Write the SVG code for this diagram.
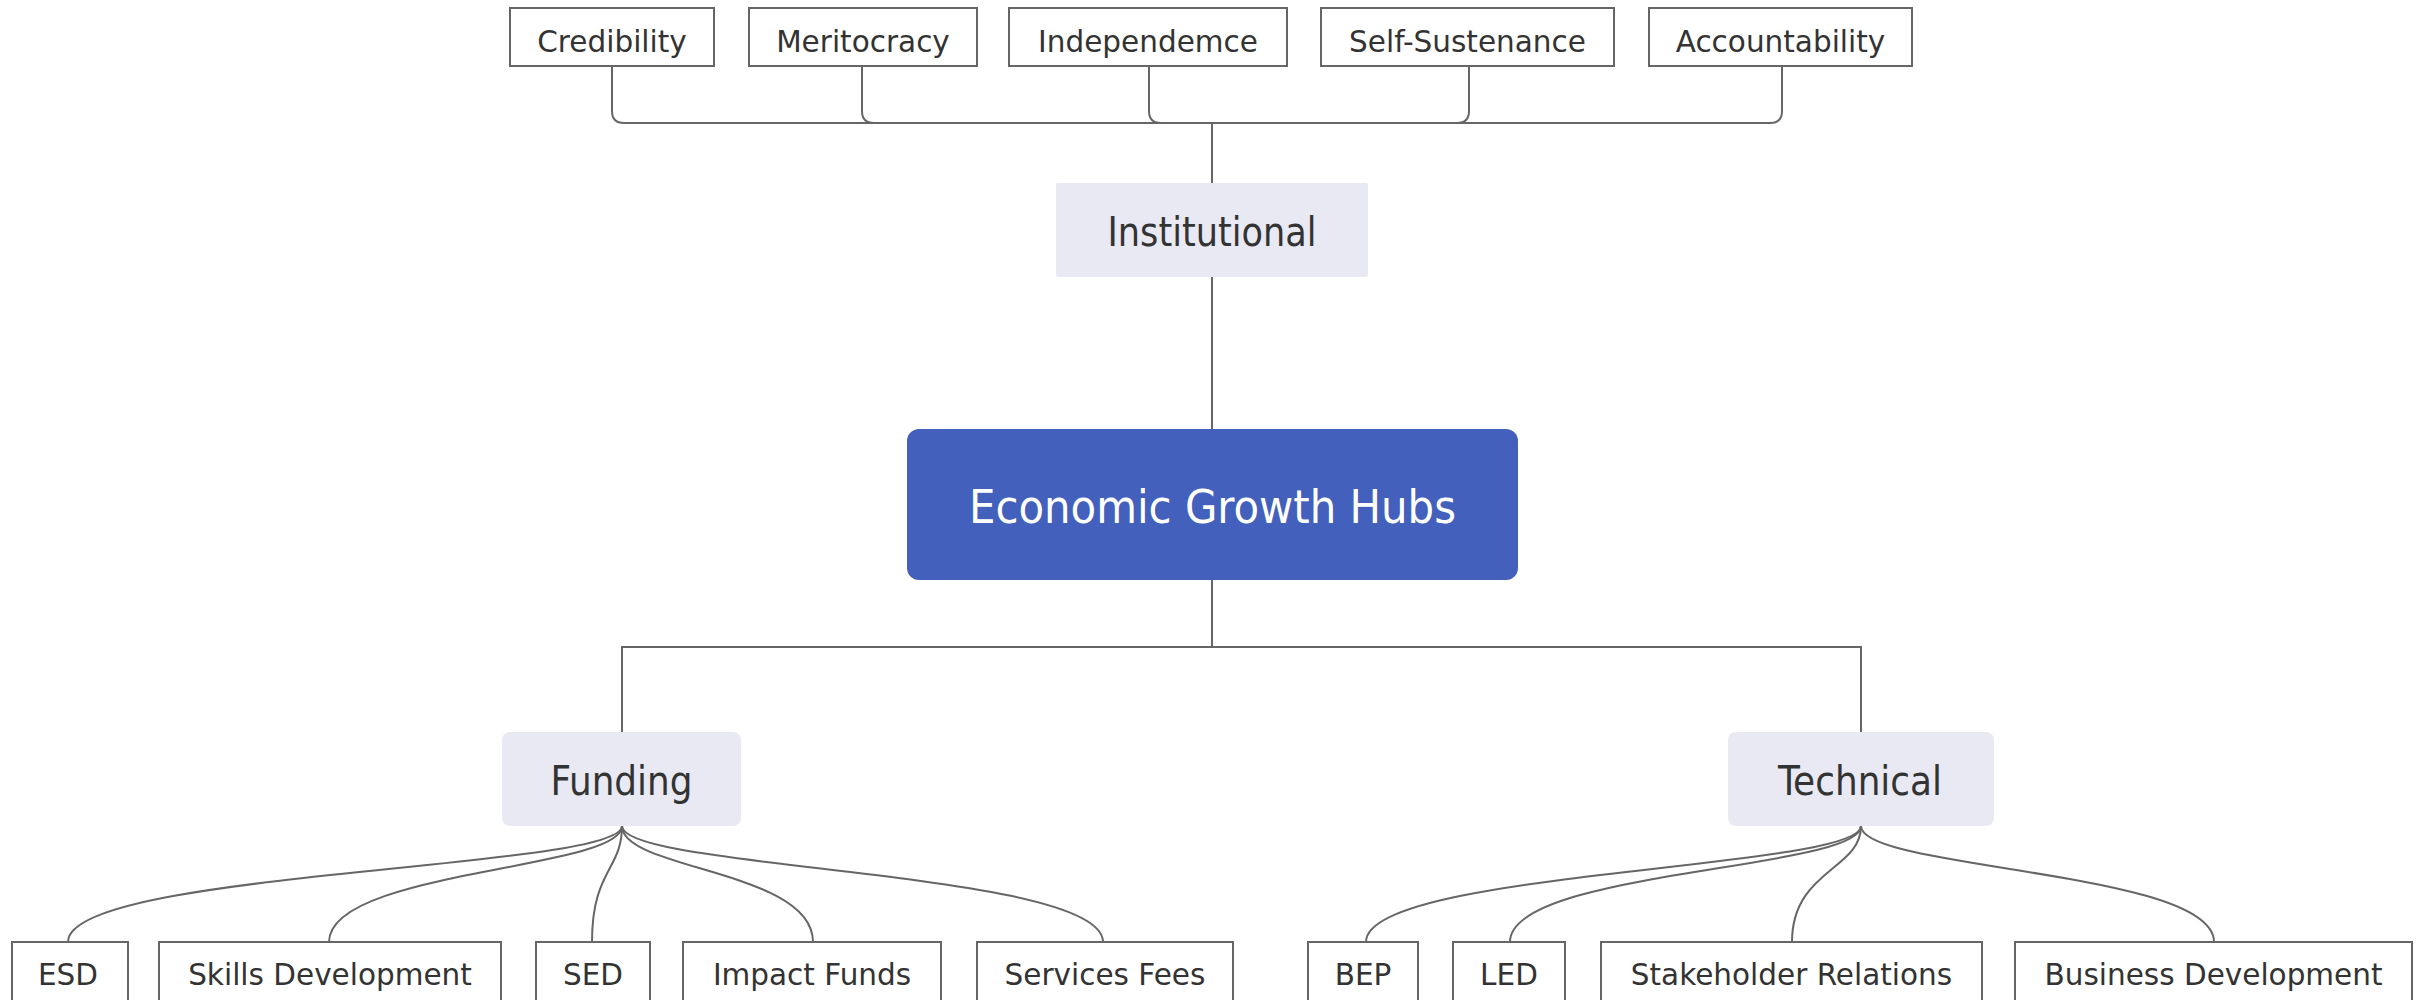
<svg xmlns="http://www.w3.org/2000/svg" width="2422" height="1000" viewBox="0 0 2422 1000">
<style>
.leaf rect{fill:#ffffff;stroke:#666666;stroke-width:2}
.leaf text{font-family:"DejaVu Sans",Verdana,sans-serif;font-size:29.5px;fill:#333333;text-anchor:middle}
.main rect{fill:#e8e9f2;stroke:none}
.main text{font-family:"DejaVu Sans Condensed","DejaVu Sans",sans-serif;font-stretch:condensed;font-size:40px;fill:#333333;text-anchor:middle}
.root rect{fill:#4360bd;stroke:none}
.root text{font-family:"DejaVu Sans Condensed","DejaVu Sans",sans-serif;font-stretch:condensed;font-size:47px;fill:#ffffff;text-anchor:middle}
#connectors path{fill:none;stroke:#666666;stroke-width:2}
</style>
<rect x="0" y="0" width="2422" height="1000" fill="#ffffff"/>
<g id="connectors">
<path d="M1212 123 H624 Q612 123 612 111 V66"/>
<path d="M1212 123 H874 Q862 123 862 111 V66"/>
<path d="M1212 123 H1161 Q1149 123 1149 111 V66"/>
<path d="M1212 123 H1457 Q1469 123 1469 111 V66"/>
<path d="M1212 123 H1770 Q1782 123 1782 111 V66"/>
<path d="M1212 123 V183"/>
<path d="M1212 277 V429"/>
<path d="M1212 580 V647 H622 V732"/>
<path d="M1212 647 H1861 V732"/>
<path d="M622 826 C622 870 68 870 68 942"/>
<path d="M622 826 C622 870 329 870 329 942"/>
<path d="M622 826 C622 870 592 870 592 942"/>
<path d="M622 826 C622 870 813 870 813 942"/>
<path d="M622 826 C622 870 1103 870 1103 942"/>
<path d="M1861 826 C1861 870 1366 870 1366 942"/>
<path d="M1861 826 C1861 870 1510 870 1510 942"/>
<path d="M1861 826 C1861 870 1792 870 1792 942"/>
<path d="M1861 826 C1861 870 2214 870 2214 942"/>
</g>
<g id="root" class="root"><rect x="907" y="429" width="611" height="151" rx="12"/><text x="1212.5" y="523" textLength="487" lengthAdjust="spacingAndGlyphs">Economic Growth Hubs</text></g>
<g id="institutional" class="main"><rect x="1056" y="183" width="312" height="94" rx="2"/><text x="1212" y="246" textLength="209" lengthAdjust="spacingAndGlyphs">Institutional</text></g>
<g id="funding" class="main"><rect x="502" y="732" width="239" height="94" rx="8"/><text x="621.5" y="795" textLength="142" lengthAdjust="spacingAndGlyphs">Funding</text></g>
<g id="technical" class="main"><rect x="1728" y="732" width="266" height="94" rx="8"/><text x="1860" y="795" textLength="164" lengthAdjust="spacingAndGlyphs">Technical</text></g>
<g id="credibility" class="leaf"><rect x="510" y="8" width="204" height="58"/><text x="612" y="52">Credibility</text></g>
<g id="meritocracy" class="leaf"><rect x="749" y="8" width="228" height="58"/><text x="863" y="52">Meritocracy</text></g>
<g id="independemce" class="leaf"><rect x="1009" y="8" width="278" height="58"/><text x="1148" y="52">Independemce</text></g>
<g id="self-sustenance" class="leaf"><rect x="1321" y="8" width="293" height="58"/><text x="1467.5" y="52">Self-Sustenance</text></g>
<g id="accountability" class="leaf"><rect x="1649" y="8" width="263" height="58"/><text x="1780.5" y="52">Accountability</text></g>
<g id="esd" class="leaf"><rect x="12" y="942" width="116" height="70"/><text x="68" y="985">ESD</text></g>
<g id="skills-development" class="leaf"><rect x="159" y="942" width="342" height="70"/><text x="330" y="985">Skills Development</text></g>
<g id="sed" class="leaf"><rect x="536" y="942" width="114" height="70"/><text x="593" y="985">SED</text></g>
<g id="impact-funds" class="leaf"><rect x="683" y="942" width="258" height="70"/><text x="812" y="985">Impact Funds</text></g>
<g id="services-fees" class="leaf"><rect x="977" y="942" width="256" height="70"/><text x="1105" y="985">Services Fees</text></g>
<g id="bep" class="leaf"><rect x="1308" y="942" width="110" height="70"/><text x="1363" y="985">BEP</text></g>
<g id="led" class="leaf"><rect x="1453" y="942" width="112" height="70"/><text x="1509" y="985">LED</text></g>
<g id="stakeholder-relations" class="leaf"><rect x="1601" y="942" width="381" height="70"/><text x="1791.5" y="985">Stakeholder Relations</text></g>
<g id="business-development" class="leaf"><rect x="2015" y="942" width="397" height="70"/><text x="2213.5" y="985">Business Development</text></g>
</svg>
